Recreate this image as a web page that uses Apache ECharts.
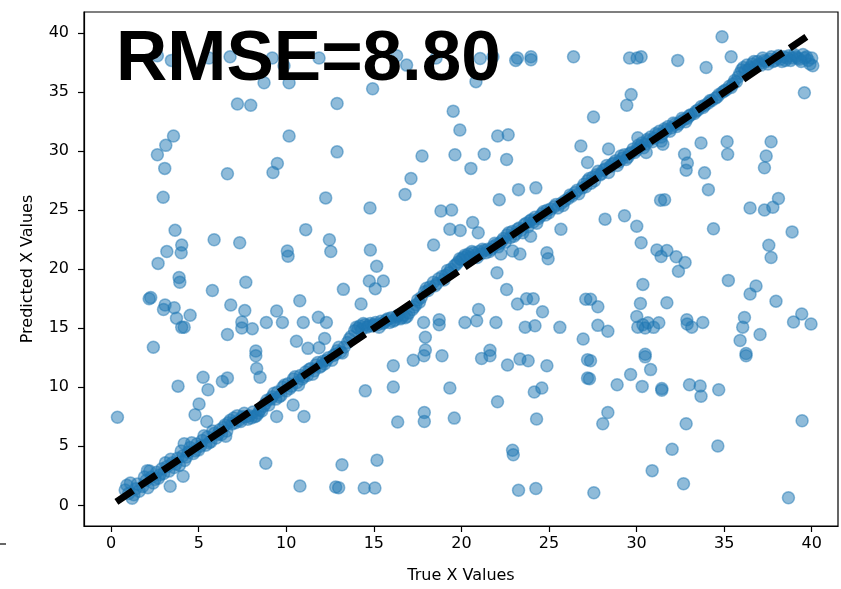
<!DOCTYPE html>
<html>
<head>
<meta charset="utf-8">
<script src="https://cdn.jsdelivr.net/npm/echarts@6/dist/echarts.min.js"></script>
<style>
html,body{margin:0;padding:0;background:#fff;}
#chart{width:841px;height:589px;}
</style>
</head>
<body>
<div id="chart"></div>
<script>
// ticks
var xTicks=[0,5,10,15,20,25,30,35,40];
var yTicks=[0,5,10,15,20,25,30,35,40];

// points lying near the diagonal (true, predicted)
var diagPoints=[
[0.8,1.3],[0.9,1.7],[1.1,1.9],[1.2,0.6],[1.3,0.9],[1.4,1.4],[1.6,1.2],[1.8,1.6],[2.0,2.1],[2.1,1.5],
[2.3,2.4],[2.4,1.9],[2.6,2.8],[2.7,2.3],[2.9,3.1],[3.0,2.7],[3.2,3.3],[3.3,2.9],[3.5,3.6],[3.6,3.2],
[3.8,4.0],[3.9,3.4],[4.1,4.2],[4.2,3.8],[4.4,4.5],[4.5,4.9],[4.7,4.4],[4.9,5.2],[5.0,4.7],[5.2,5.5],
[5.4,5.1],[5.5,5.8],[5.7,5.4],[5.9,6.1],[6.0,5.7],[6.2,6.4],[6.3,6.0],[6.5,6.8],[6.6,6.3],[6.8,7.2],
[6.9,6.9],[7.0,7.4],[7.2,7.6],[7.3,7.2],[7.5,7.5],[7.6,7.8],[7.8,7.3],[7.9,7.6],[8.1,7.9],[8.2,7.5],
[8.4,7.8],[8.5,8.1],[8.7,8.4],[8.9,8.9],[9.0,8.5],[9.2,9.2],[9.4,9.0],[9.5,9.6],[9.7,9.3],[9.8,10.0],
[10.0,9.7],[10.1,10.3],[10.3,10.1],[10.4,10.7],[10.6,10.4],[10.8,11.0],[10.9,10.7],[11.1,11.3],[11.2,11.0],[11.4,11.6],
[11.6,11.4],[11.7,11.9],[11.9,11.7],[12.1,12.2],[12.2,12.0],[12.4,12.5],[12.6,12.3],[12.8,12.8],[12.9,13.1],[13.1,13.0],
[13.3,13.4],[13.5,13.8],[13.7,14.3],[13.9,14.8],[14.0,15.1],[14.2,15.2],[14.3,14.9],[14.5,15.3],[14.6,15.1],[14.8,15.4],
[14.9,15.2],[15.1,15.5],[15.2,15.3],[15.4,15.6],[15.5,15.4],[15.7,15.7],[15.9,15.5],[16.0,15.9],[16.2,15.7],[16.3,16.0],
[16.5,15.8],[16.7,16.1],[16.8,15.9],[17.0,16.3],[17.2,16.6],[17.4,17.0],[17.5,17.4],[17.7,17.6],[17.9,18.1],[18.0,18.4],
[18.2,18.5],[18.4,18.9],[18.6,18.8],[18.7,19.2],[18.9,19.4],[19.1,19.5],[19.2,19.9],[19.4,20.0],[19.6,20.3],[19.8,20.6],
[19.9,20.9],[20.1,21.0],[20.2,21.2],[20.4,21.3],[20.5,21.0],[20.7,21.4],[20.8,21.2],[21.0,21.5],[21.1,21.3],[21.3,21.6],
[21.5,21.7],[21.6,21.5],[21.8,21.9],[22.0,22.1],[22.1,21.9],[22.3,22.4],[22.4,22.6],[22.6,22.9],[22.8,22.7],[22.9,23.2],
[23.1,23.0],[23.3,23.5],[23.4,23.3],[23.6,23.8],[23.8,23.6],[23.9,24.1],[24.1,24.0],[24.2,24.4],[24.4,24.3],[24.6,24.7],
[24.8,24.6],[24.9,25.0],[25.1,25.1],[25.3,25.3],[25.5,25.2],[25.7,25.6],[25.9,25.8],[26.1,26.0],[26.3,26.2],[26.5,26.5],
[26.7,26.4],[26.9,26.9],[27.0,27.2],[27.2,27.5],[27.4,27.3],[27.5,27.8],[27.7,28.0],[27.8,28.3],[28.0,28.1],[28.2,28.5],
[28.3,28.8],[28.5,28.7],[28.7,29.0],[28.8,29.2],[29.0,29.1],[29.2,29.4],[29.3,29.7],[29.5,29.5],[29.7,29.9],[29.8,30.2],
[30.0,30.1],[30.2,30.4],[30.3,30.7],[30.5,30.6],[30.7,30.9],[30.8,31.2],[31.0,31.1],[31.2,31.4],[31.3,31.7],[31.5,31.5],
[31.7,31.8],[31.8,32.1],[32.0,32.0],[32.2,32.3],[32.3,32.1],[32.5,32.5],[32.7,32.7],[32.9,32.8],[33.1,33.1],[33.3,33.2],
[33.5,33.5],[33.7,33.8],[33.9,33.9],[34.1,34.1],[34.3,34.3],[34.5,34.5],[34.7,34.8],[34.9,35.0],[35.1,35.2],[35.3,35.5],
[35.5,35.7],[35.6,36.0],[35.8,36.3],[35.9,36.6],[36.0,36.9],[36.1,37.1],[36.3,37.3],[36.4,36.9],[36.6,37.4],[36.8,37.2],
[36.9,37.6],[37.1,37.3],[37.3,37.7],[37.5,37.4],[37.6,37.8],[37.8,37.6],[38.0,37.9],[38.2,37.8],[38.4,38.0],[38.5,37.7],
[38.7,38.1],[38.9,37.9],[39.1,38.0],[39.3,37.8],[39.5,38.2],[39.6,37.9],[39.8,37.7],[39.9,37.4],
[28.4,30.2],[30.07,31.14],[30.55,29.9],[31.4,30.86],[31.5,30.6],[27.2,29.05],[23.95,22.8]
];

// second pass over the dense part of the diagonal
var diagPoints2=[
[1.0,1.0],[1.5,1.8],[1.9,2.4],[2.2,2.9],[2.5,2.2],[2.8,2.6],[3.1,3.6],[3.4,3.9],[3.7,3.5],[4.0,4.6],
[4.3,4.1],[4.6,5.3],[4.8,4.6],[5.1,5.0],[5.3,5.9],[5.6,5.3],[5.8,6.3],[6.1,6.0],[6.4,6.6],[6.7,7.0],
[7.1,7.0],[7.4,7.1],[7.7,7.5],[8.0,7.4],[8.3,7.6],[8.6,8.0],[8.8,8.6],[9.1,9.0],[9.3,9.5],[9.6,9.2],
[9.9,10.2],[10.2,9.9],[10.5,10.9],[10.7,10.2],[11.0,10.9],[11.3,11.5],[11.5,11.1],[11.8,12.1],[12.0,11.8],[12.3,12.3],
[12.7,12.7],[13.0,13.4],[13.2,12.9],[13.6,14.1],[14.1,15.0],[14.4,15.4],[14.7,15.2],[15.0,15.3],[15.3,15.1],[15.6,15.5],
[15.8,15.8],[16.1,15.6],[16.4,16.1],[16.6,15.9],[16.9,16.0],[17.3,16.8],[17.6,17.2],[18.1,18.2],[18.5,18.6],[19.0,19.1],
[19.3,19.7],[19.7,20.4],[20.0,20.8],[20.3,21.1],[20.6,21.5],[20.9,21.0],[21.2,21.7],[21.4,21.4],[21.7,21.7],[21.9,22.2],
[22.2,22.2],[22.5,22.3],[22.7,23.1],[23.0,22.8],[23.2,23.4],[23.5,23.1],[23.7,23.9],[24.0,24.2],[24.3,23.9],[24.5,24.5],
[24.7,24.9],[25.0,24.8],[25.4,25.5],[25.8,25.4],[26.2,26.3],[26.6,26.7],[27.1,27.0],[27.3,27.7],[27.6,27.5],[27.9,28.0],
[28.1,28.4],[28.4,28.2],[28.6,28.9],[28.9,28.8],[29.1,29.6],[29.4,29.3],[29.6,29.8],[29.9,29.9],[30.1,30.5],[30.4,30.3],
[30.6,31.0],[30.9,30.8],[31.1,31.5],[31.4,31.2],[31.6,31.9],[31.9,31.7],[32.1,32.4],[32.4,32.3],[32.6,32.8],[32.8,32.5],
[33.0,33.0],[33.4,33.4],[33.8,33.7],[34.2,34.3],[34.6,34.6],[35.0,35.1],[35.4,35.4],[35.7,35.9],[36.2,36.8],[36.5,37.1],
[36.7,37.6],[37.0,37.4],[37.2,37.9],[37.4,37.6],[37.7,38.0],[37.9,37.7],[38.1,38.1],[38.3,37.6],[38.6,37.9],[38.8,37.7],
[39.0,38.2],[39.2,37.9],[39.4,37.6],[39.7,38.0],[40.0,37.9]
];

// points far from the diagonal
var offPoints=[
[2.64,38.1],[3.44,37.7],[5.59,37.9],[6.79,38.0],[9.2,37.9],[9.87,37.25],[11.87,37.9],[8.73,35.8],[10.16,35.8],
[7.21,34.0],[7.97,33.9],[12.9,34.05],[3.56,31.3],[3.12,30.5],[2.64,29.7],[3.06,28.55],[6.64,28.1],[10.16,31.3],
[9.49,28.97],[9.24,28.2],[12.9,29.95],[16.3,38.1],[16.87,37.3],[18.55,37.9],[21.07,37.86],[21.8,38.0],[20.83,35.9],
[23.2,37.9],[23.1,37.7],[23.97,38.0],[23.97,37.75],[26.4,38.0],[14.93,35.3],[19.53,33.4],[19.91,31.8],[22.07,31.3],
[22.67,31.4],[17.75,29.6],[19.63,29.7],[21.3,29.75],[22.58,29.3],[20.54,28.55],[17.12,27.7],[26.82,30.45],
[34.88,39.7],[29.6,37.9],[30.03,37.9],[30.26,38.0],[32.35,37.7],[33.97,37.1],[35.4,38.0],[29.69,34.8],[29.44,33.9],
[27.54,32.9],[39.58,34.95],[33.68,30.7],[35.17,30.8],[35.2,29.75],[37.68,30.8],[37.4,29.6],[37.3,28.6],[32.74,29.75],
[32.9,29.0],[32.83,28.4],[33.88,28.17],[40.06,37.25],
[2.97,26.1],[12.25,26.05],[3.65,23.3],[11.11,23.36],[5.88,22.5],[7.34,22.25],[4.03,22.05],[4.0,21.4],[3.18,21.5],
[2.68,20.5],[10.06,21.55],[10.1,21.1],[12.46,22.5],[12.54,21.5],[3.88,19.3],[3.92,18.9],[7.69,18.9],[5.78,18.2],
[2.17,17.5],[2.26,17.6],[6.83,16.97],[3.08,16.97],[2.99,16.6],[3.6,16.75],[7.63,16.5],[4.51,16.1],[3.73,15.86],
[4.03,15.08],[4.17,15.1],[9.45,16.47],[8.86,15.5],[9.78,15.5],[10.77,17.33],[10.97,15.5],[11.83,15.94],[12.29,15.5],
[7.46,15.53],[7.46,15.03],[8.06,14.97],[6.64,14.47],[10.58,13.9],[11.24,13.3],[11.87,13.36],[12.19,14.14],[2.41,13.4],
[8.26,13.08],
[16.78,26.33],[14.78,25.2],[18.83,24.94],[19.44,25.03],[20.64,23.97],[19.34,23.4],[19.93,23.28],[20.96,23.1],
[22.16,25.9],[23.26,26.75],[24.25,26.9],[18.41,22.05],[14.8,21.64],[15.16,20.25],[14.74,19.0],[15.08,18.36],[15.54,19.0],
[13.26,18.3],[14.27,17.06],[22.03,19.7],[22.58,18.28],[23.2,17.06],[23.72,17.5],[24.1,17.5],[24.63,16.4],[25.68,23.4],
[24.88,21.4],[24.95,20.9],[22.92,21.55],[23.34,21.3],[22.25,21.3],[20.98,16.6],[20.87,15.64],[20.2,15.5],[21.97,15.5],
[23.64,15.1],[24.2,15.22],[25.62,15.08],[26.95,14.1],[27.1,17.47],[17.94,14.25],[17.94,13.17],[18.73,15.72],[18.73,15.3],
[17.84,15.5],[21.63,13.14],
[34.1,26.75],[31.37,25.86],[31.6,25.9],[36.48,25.2],[37.3,25.03],[37.78,25.25],[38.1,26.0],[28.2,24.25],[29.31,24.53],
[30.01,23.64],[34.39,23.44],[38.88,23.17],[30.26,22.25],[31.16,21.64],[31.73,21.6],[31.4,21.08],[32.26,21.06],[32.77,20.58],
[32.39,19.83],[37.55,22.03],[37.68,21.0],[35.24,19.06],[36.82,18.58],[36.48,17.9],[37.96,17.3],[30.36,18.72],[30.22,17.1],
[31.73,17.17],[27.37,17.47],[27.79,16.83],[30.01,16.0],[30.07,15.1],[30.36,15.3],[30.65,15.47],[30.49,15.03],[30.97,15.08],
[31.27,15.47],[32.87,15.72],[32.89,15.36],[33.15,15.1],[33.78,15.5],[36.16,15.92],[36.06,15.1],[35.91,13.97],[36.25,12.86],
[37.05,14.47],[38.96,15.53],[39.43,16.22],[39.96,15.36],[27.79,15.25],[28.36,14.75],[30.49,12.8],
[0.36,7.47],[3.82,10.1],[5.25,10.86],[5.53,9.8],[6.35,10.5],[6.64,10.8],[5.02,8.58],[4.79,7.67],[5.46,7.11],[6.54,5.86],
[4.17,5.22],[8.26,12.67],[8.31,11.6],[8.5,10.86],[8.83,3.56],[10.78,1.64],[11.01,7.53],[10.39,8.5],[12.82,1.56],[3.37,1.61],
[2.07,2.94],[4.11,2.47],[9.45,7.53],
[16.11,11.83],[17.25,12.3],[14.51,9.7],[16.11,10.03],[19.34,9.94],[16.36,7.06],[17.88,7.86],[17.88,7.11],[19.59,7.39],
[22.06,8.78],[24.29,7.31],[24.16,9.61],[24.59,9.94],[24.88,11.83],[22.63,11.89],[21.15,12.44],[21.63,12.67],[23.34,12.39],
[23.81,12.25],[22.92,4.67],[22.96,4.28],[23.26,1.28],[24.25,1.42],[13.18,3.44],[15.18,3.83],[12.99,1.5],[14.45,1.47],
[15.06,1.47],[27.2,10.78],[27.2,12.33],[18.89,12.67],[17.86,12.67],
[27.37,12.25],[27.31,10.72],[30.49,12.58],[30.8,11.5],[29.66,11.08],[28.89,10.22],[30.32,10.08],[31.44,9.89],[31.44,9.75],
[33.02,10.22],[33.63,10.11],[33.68,9.25],[34.69,9.8],[28.36,7.86],[28.07,6.92],[32.83,6.92],[36.25,12.67],[39.45,7.17],
[32.03,4.75],[34.64,5.03],[30.89,2.94],[32.68,1.83],[27.56,1.06],[38.67,0.64]
];

// y = x reference line
var lineStart=0.3;
var lineEnd=40;
var rmseText='RMSE=8.80';

var allPoints=diagPoints.concat(diagPoints2).concat(offPoints);

var chart=echarts.init(document.getElementById('chart'));
var tickFont={color:'#000',fontSize:16,fontFamily:'DejaVu Sans'};

var option={
	animation:false,
	backgroundColor:'#fff',
	grid:{left:84,top:12,width:754,height:523,show:true,borderColor:'#000',borderWidth:1.2,backgroundColor:'transparent'},
	xAxis:{
		type:'value',min:-1.55,max:41.5,
		name:'True X Values',nameLocation:'middle',nameGap:42,
		nameTextStyle:{color:'#000',fontSize:16,fontFamily:'DejaVu Sans'},
		axisLine:{onZero:false,lineStyle:{color:'#000',width:1.2}},
		axisTick:{show:true,length:6,customValues:xTicks,lineStyle:{color:'#000',width:1.2}},
		axisLabel:Object.assign({customValues:xTicks,margin:10},tickFont),
		splitLine:{show:false}
	},
	yAxis:{
		type:'value',min:-1.75,max:41.8,
		name:'Predicted X Values',nameLocation:'middle',nameGap:48,
		nameTextStyle:{color:'#000',fontSize:16,fontFamily:'DejaVu Sans'},
		axisLine:{onZero:false,lineStyle:{color:'#000',width:1.2}},
		axisTick:{show:true,length:6,customValues:yTicks,lineStyle:{color:'#000',width:1.2}},
		axisLabel:Object.assign({customValues:yTicks,margin:15},tickFont),
		splitLine:{show:false}
	},
	series:[
		{
			type:'scatter',
			data:allPoints,
			symbolSize:12,
			itemStyle:{color:'rgba(31,119,180,0.5)',borderColor:'rgba(31,119,180,0.5)',borderWidth:1.5,opacity:1},
			z:2
		},
		{
			type:'line',
			data:[[lineStart,lineStart],[lineEnd,lineEnd]],
			symbol:'none',
			lineStyle:{color:'#000',width:7,type:[20,8]},
			z:3
		}
	],
	graphic:[
		{type:'text',left:116,top:25,z:10,
		 style:{text:rmseText,fill:'#000',font:'bold 71px "Liberation Sans", Arial, sans-serif'}},
		{type:'line',shape:{x1:0,y1:544,x2:6,y2:544},style:{stroke:'#000',lineWidth:1.2}}
	]
};
chart.setOption(option);
</script>
</body>
</html>
